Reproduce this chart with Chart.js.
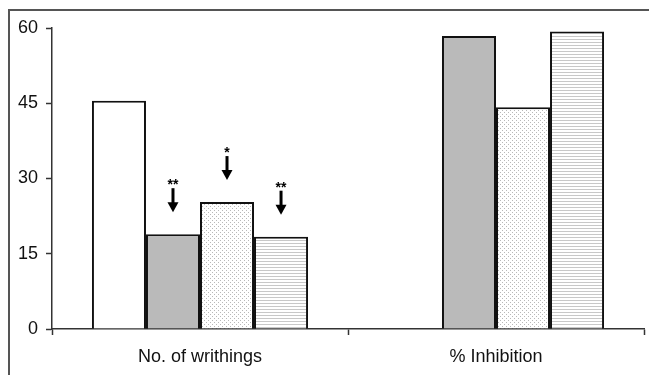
<!DOCTYPE html>
<html>
<head>
<meta charset="utf-8">
<script src="https://cdn.jsdelivr.net/npm/chart.js@4"></script>
<style>
  html, body { margin: 0; padding: 0; background: #fff; }
  #wrap { width: 649px; height: 375px; position: relative; }
</style>
</head>
<body>
<div id="wrap"><canvas id="myChart" width="649" height="375"></canvas></div>
<script>
// chart data
const categories = ['No. of writhings', '% Inhibition'];
const seriesNames = ['Control', 'Treatment A', 'Treatment B', 'Treatment C'];
const controlValues = [45.5, null];
const treatAValues = [18.9, 58.4];
const treatBValues = [25.3, 44.2];
const treatCValues = [18.4, 59.3];
const yTicks = [0, 15, 30, 45, 60];
// significance marks on the writhings group (per series)
const stars = ['', '**', '*', '**'];

function makePattern(kind) {
    const c = document.createElement('canvas');
    const g = c.getContext('2d');
    if (kind === 'dots') {
        c.width = 4; c.height = 4;
        g.fillStyle = '#fff';
        g.fillRect(0, 0, 4, 4);
        g.fillStyle = '#b8b8b8';
        g.fillRect(0, 0, 1, 1);
        g.fillRect(2, 2, 1, 1);
    } else {
        c.width = 4; c.height = 3;
        g.fillStyle = '#fff';
        g.fillRect(0, 0, 4, 3);
        g.fillStyle = '#c8c8c8';
        g.fillRect(0, 0, 4, 1);
    }
    return g.createPattern(c, 'repeat');
}

const fills = ['#ffffff', '#bababa', makePattern('dots'), makePattern('lines')];
const values = [controlValues, treatAValues, treatBValues, treatCValues];
const fontFamily = '"Liberation Sans", Arial, sans-serif';

const framePlugin = {
    id: 'frame',
    beforeDraw(chart) {
        const ctx = chart.ctx;
        ctx.save();
        ctx.fillStyle = '#fff';
        ctx.fillRect(0, 0, chart.width, chart.height);
        ctx.strokeStyle = '#555';
        ctx.lineWidth = 2;
        ctx.beginPath();
        ctx.moveTo(9, chart.height);
        ctx.lineTo(9, 10);
        ctx.lineTo(chart.width, 10);
        ctx.stroke();
        ctx.restore();
    }
};

const arrowPlugin = {
    id: 'arrows',
    afterDatasetsDraw(chart) {
        const ctx = chart.ctx;
        ctx.save();
        stars.forEach((s, i) => {
            if (!s) return;
            const bar = chart.getDatasetMeta(i).data[0];
            const x = bar.x;
            const tip = bar.y - 22;
            ctx.strokeStyle = '#000';
            ctx.fillStyle = '#000';
            ctx.lineWidth = 3;
            ctx.beginPath();
            ctx.moveTo(x, tip - 24);
            ctx.lineTo(x, tip - 8);
            ctx.stroke();
            ctx.beginPath();
            ctx.moveTo(x - 5.5, tip - 10);
            ctx.lineTo(x + 5.5, tip - 10);
            ctx.lineTo(x, tip);
            ctx.closePath();
            ctx.fill();
            ctx.font = 'bold 14px ' + fontFamily;
            ctx.textAlign = 'center';
            ctx.textBaseline = 'middle';
            ctx.fillText(s, x, tip - 27);
        });
        ctx.restore();
    }
};

new Chart(document.getElementById('myChart'), {
    type: 'bar',
    data: {
        labels: categories,
        datasets: seriesNames.map((name, i) => ({
            label: name,
            data: values[i],
            backgroundColor: fills[i],
            borderColor: '#111',
            borderWidth: 2,
            categoryPercentage: 0.73,
            barPercentage: 1
        }))
    },
    options: {
        responsive: false,
        animation: false,
        layout: { padding: { left: 0, right: 5, top: 28, bottom: 0 } },
        plugins: {
            legend: { display: false },
            tooltip: { enabled: false }
        },
        scales: {
            x: {
                offset: true,
                grid: {
                    offset: true,
                    drawOnChartArea: false,
                    tickLength: 6,
                    tickColor: '#333',
                    tickWidth: 1.5
                },
                border: { color: '#333', width: 1.5 },
                ticks: {
                    color: '#111',
                    padding: 11,
                    font: { family: fontFamily, size: 18 }
                },
                afterFit(scale) { scale.height = 46; }
            },
            y: {
                min: 0,
                max: 60,
                afterBuildTicks(scale) { scale.ticks = yTicks.map(v => ({ value: v })); },
                grid: {
                    drawOnChartArea: false,
                    tickLength: 6,
                    tickColor: '#333',
                    tickWidth: 1.5
                },
                border: { color: '#333', width: 1.5 },
                ticks: {
                    color: '#111',
                    padding: 8,
                    font: { family: fontFamily, size: 18 }
                },
                afterFit(scale) { scale.width = 52; }
            }
        }
    },
    plugins: [framePlugin, arrowPlugin]
});
</script>
</body>
</html>
